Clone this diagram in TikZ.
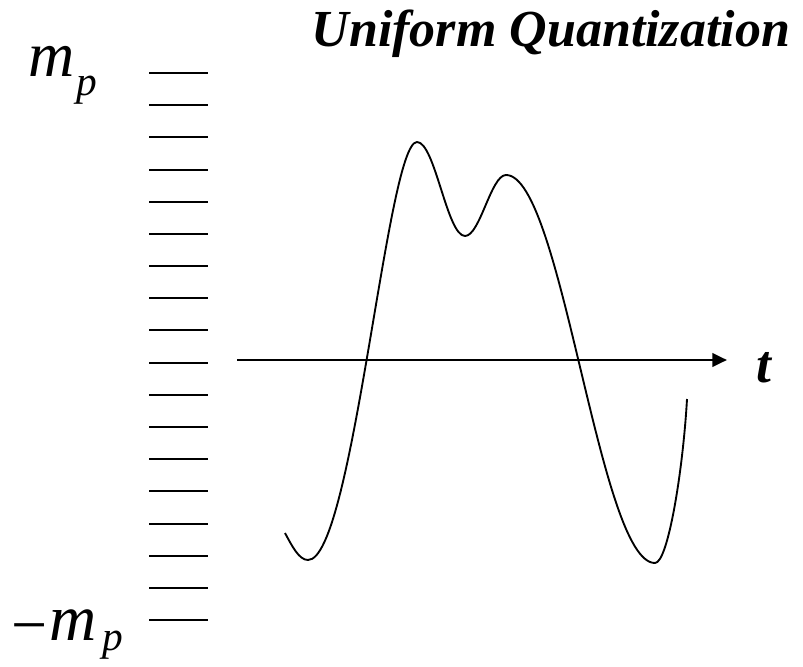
\documentclass[tikz,border=0pt]{standalone}
\usepackage{fontspec}
\setmainfont{Liberation Serif}
\usetikzlibrary{arrows.meta}
\tikzset{
  lvl/.style={line width=1.2pt},
  axisline/.style={line width=2.1pt,-{Triangle[length=11pt,width=10pt]}},
  sig/.style={line width=1.4pt,line join=round},
  lbl/.style={inner sep=0pt,outer sep=0pt,anchor=base west}
}
\begin{document}
\begin{tikzpicture}[x=0.75pt,y=-0.75pt]
\useasboundingbox (0,0) rectangle (803,667);
% title
\node[lbl,anchor=base east,font=\fontsize{39}{43}\selectfont\bfseries\itshape] (title) at (790,47) {Uniform Quantization};
% labels
\node[lbl,font=\fontsize{48}{52}\selectfont\itshape] (mtop) at (28,77) {m};
\node[lbl,font=\fontsize{31}{34}\selectfont\itshape] (ptop) at (76,95) {p};
\node[lbl,font=\fontsize{48}{52}\selectfont] (minus) at (12,646) {−};
\node[lbl,font=\fontsize{49}{52}\selectfont\itshape] (mbot) at (49,640) {m};
\node[lbl,font=\fontsize{31}{34}\selectfont\itshape] (pbot) at (102,650) {p};
% quantization levels
\foreach \i in {0,...,17}{
  \pgfmathsetmacro{\yy}{round(73+\i*32.18)}
  \coordinate (l\i a) at (149,\yy);
  \coordinate (l\i b) at (208,\yy);
  \draw[lvl] (l\i a) -- (l\i b);
}
% axis
\coordinate (ax0) at (237,360);
\coordinate (ax1) at (727,360);
\draw[axisline] (ax0) -- (ax1);
\node[lbl,font=\fontsize{40}{44}\selectfont\bfseries\itshape] (tlabel) at (756,382) {t};
% signal
\coordinate (s0) at (285,533);
\coordinate (min1) at (308,560);
\coordinate (pk1) at (417,142);
\coordinate (tr) at (465,236);
\coordinate (pk2) at (506,175);
\coordinate (min2) at (655,563);
\coordinate (s1) at (687,399);
\draw[sig] (s0) .. controls (292,546) and (299,560) .. (min1)
  .. controls (353,560) and (387,142) .. (pk1)
  .. controls (435,142) and (447,236) .. (tr)
  .. controls (480,236) and (491,175) .. (pk2)
  .. controls (562,175) and (599,563) .. (min2)
  .. controls (668,563) and (683,470) .. (s1);
\end{tikzpicture}
\end{document}
